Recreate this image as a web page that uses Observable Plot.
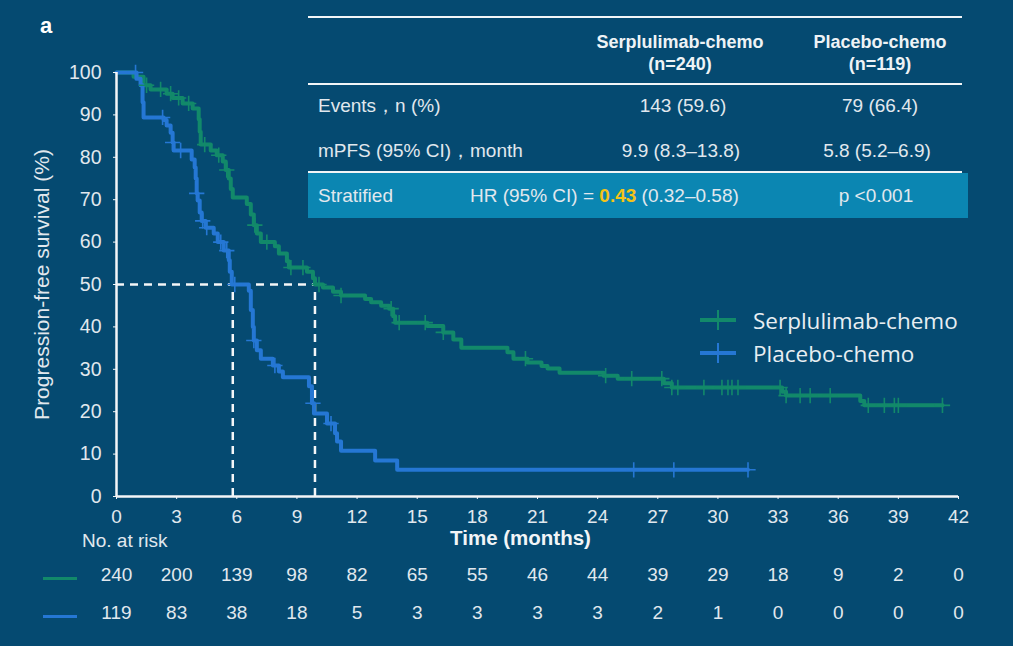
<!DOCTYPE html>
<html>
<head>
<meta charset="utf-8">
<script src="https://cdn.jsdelivr.net/npm/d3@7"></script>
<script src="https://cdn.jsdelivr.net/npm/@observablehq/plot@0.6"></script>
<style>
  html, body { margin: 0; padding: 0; background: #054a71; }
  #wrap { position: relative; width: 1013px; height: 646px; background: #054a71; overflow: hidden;
          font-family: "Liberation Sans", Arial, sans-serif; color: #e6edf2; }
  #wrap svg { position: absolute; left: 0; top: 0; }
  .ov { position: absolute; white-space: nowrap; }
  .c { transform: translate(-50%, -50%); text-align: center; }
  .l { transform: translate(0, -50%); }
  .hl { position: absolute; height: 2px; background: #f2f5f7; }
</style>
</head>
<body>
<div id="wrap"></div>
<script>
// ---------- data ----------
const groups = ["Serplulimab-chemo", "Placebo-chemo"];
const groupColors = ["#12896a", "#2577d4"];

const xTicks = [0, 3, 6, 9, 12, 15, 18, 21, 24, 27, 30, 33, 36, 39, 42];
const yTicks = [0, 10, 20, 30, 40, 50, 60, 70, 80, 90, 100];

// Serplulimab-chemo KM steps (months, % PFS)
const serpTimes = [0, 0.85, 1.35, 1.7, 2.5, 2.8, 3.3, 3.8, 4.1, 4.15, 4.2, 4.7, 5.0, 5.3, 5.45, 5.6, 5.7, 5.8,
  6.5, 6.7, 6.85, 7.0, 7.2, 7.9, 8.1, 8.5, 8.6, 9.5, 9.8, 9.9, 10.3, 10.8, 11.2, 12.4, 12.7, 13.2, 13.6, 13.8,
  13.9, 15.5, 16.3, 16.8, 17.2, 19.5, 19.8, 20.5, 21.2, 21.5, 22.1, 24.3, 25.0, 27.3, 27.7, 33.2, 33.4, 37.1,
  37.3, 41.2];
const serpSurv = [100, 99, 97, 96, 95, 94, 92.7, 91.5, 89, 86, 83, 81.6, 80.5, 79, 77, 75, 72.5, 70.5,
  69, 66.5, 64, 62, 60, 59, 57.3, 55.5, 54, 53, 51.5, 50, 49.3, 48.3, 47.4, 46.6, 45.8, 45, 44.3, 42.5,
  41, 40.2, 38.7, 37, 35.1, 34, 32.5, 31.6, 30.8, 30.2, 29.2, 28.5, 27.8, 26.7, 25.7, 24.7, 23.8, 22.5,
  21.5, 21.5];

// Placebo-chemo KM steps
const placTimes = [0, 1.0, 1.2, 1.3, 1.35, 2.35, 2.5, 2.7, 2.8, 2.85, 3.75, 3.9, 3.95, 4.0, 4.05, 4.15, 4.25,
  4.45, 4.85, 5.05, 5.35, 5.6, 5.65, 5.75, 6.6, 6.7, 6.8, 6.85, 7.0, 7.2, 7.8, 8.1, 8.3, 9.6, 9.75, 9.85,
  10.5, 10.9, 11.0, 11.2, 12.9, 14.0, 31.5];
const placSurv = [100, 98.5, 97, 93, 89.4, 88.8, 87.5, 85.8, 83.5, 81.6, 79.5, 77.6, 75, 71.5, 69.8, 67, 65,
  63.4, 62, 60, 58, 55.7, 53, 50, 48.5, 44, 40, 36.8, 34.5, 32.5, 30.9, 29.5, 28.1, 26, 22, 19.6,
  17.2, 14.9, 13, 10.8, 8.5, 6.3, 6.3];

// censoring times
const serpCensor = [1.5, 2.2, 2.7, 3.1, 3.6, 4.4, 5.1, 5.5, 6.9, 7.5, 8.7, 9.3, 10.1, 11.2, 13.7, 14.1, 15.4,
  16.3, 20.4, 24.4, 25.7, 27.2, 27.7, 28.0, 29.3, 30.2, 30.5, 30.7, 31.0, 33.1, 33.4, 34.1, 34.6, 35.6,
  37.5, 38.3, 38.8, 39.0, 41.2];
const placCensor = [0.95, 2.3, 2.8, 3.2, 4.0, 4.3, 4.5, 5.2, 5.5, 5.9, 6.85, 7.9, 9.8, 10.7, 25.8, 27.8, 31.5];

const medians = [5.8, 9.9];
const medianLevel = 50;

const riskTimes = xTicks;
const riskSerp = [240, 200, 139, 98, 82, 65, 55, 46, 44, 39, 29, 18, 9, 2, 0];
const riskPlac = [119, 83, 38, 18, 5, 3, 3, 3, 3, 2, 1, 0, 0, 0, 0];

// ---------- build ----------
function survAt(times, surv, t) {
  let v = surv[0];
  for (let i = 0; i < times.length; i++) if (times[i] <= t) v = surv[i];
  return v;
}
const curves = [
  ...serpTimes.map((t, i) => ({group: groups[0], t, s: serpSurv[i]})),
  ...placTimes.map((t, i) => ({group: groups[1], t, s: placSurv[i]}))
];
const censors = [
  ...serpCensor.map(t => ({group: groups[0], t, s: survAt(serpTimes, serpSurv, t)})),
  ...placCensor.map(t => ({group: groups[1], t, s: survAt(placTimes, placSurv, t)}))
];
const riskRows = [
  ...riskTimes.map((t, i) => ({row: 0, t, n: riskSerp[i]})),
  ...riskTimes.map((t, i) => ({row: 1, t, n: riskPlac[i]}))
];

const txt = "#e1e8ee";
const chart = Plot.plot({
  width: 1013,
  height: 646,
  marginLeft: 116,
  marginRight: 55,
  marginTop: 72,
  marginBottom: 150,
  style: {background: "transparent", color: txt, fontFamily: "'Liberation Sans', Arial, sans-serif", fontSize: "19px", overflow: "visible"},
  x: {domain: [0, 42]},
  y: {domain: [0, 100]},
  color: {domain: groups, range: groupColors},
  marks: [
    Plot.ruleY([medianLevel], {x1: 0, x2: d3.max(medians), stroke: "#f4f6f8", strokeWidth: 2.5, strokeDasharray: "8,6"}),
    Plot.ruleX(medians, {x: d => d, y1: 0, y2: medianLevel, stroke: "#f4f6f8", strokeWidth: 2.5, strokeDasharray: "8,6"}),
    Plot.line(curves, {x: "t", y: "s", z: "group", stroke: "group", curve: "step-after", strokeWidth: 4}),
    Plot.dot(censors, {x: "t", y: "s", stroke: "group", symbol: "plus", r: 5, strokeWidth: 1.6}),
    Plot.ruleX([0], {stroke: "#f4f6f8", strokeWidth: 2.5}),
    Plot.ruleY([0], {stroke: "#f4f6f8", strokeWidth: 2.5}),
    Plot.axisX({ticks: xTicks, tickSize: 3, tickPadding: 10, stroke: "#f4f6f8", label: null, fontSize: 19}),
    Plot.axisY({ticks: yTicks, tickSize: 3, tickPadding: 12, stroke: "#f4f6f8", label: null, fontSize: 19.5}),
    Plot.text(["Time (months)"], {frameAnchor: "bottom", dx: -17, dy: 48, fontWeight: "bold", fontSize: 20.5, fill: "#f2f5f7"}),
    Plot.text(["Progression-free survival (%)"], {frameAnchor: "left", textAnchor: "middle", dx: -74, rotate: -90, fontSize: 21, fill: txt}),
    Plot.text(riskRows.filter(d => d.row === 0), {x: "t", text: "n", frameAnchor: "bottom", dy: 84, fontSize: 19, fill: txt}),
    Plot.text(riskRows.filter(d => d.row === 1), {x: "t", text: "n", frameAnchor: "bottom", dy: 122, fontSize: 19, fill: txt})
  ]
});

const wrap = document.getElementById("wrap");
wrap.appendChild(chart);

function add(html) { wrap.insertAdjacentHTML("beforeend", html); }

// panel letter
add(`<div class="ov c" style="left:46px;top:26px;font-weight:bold;font-size:22px;color:#fff">a</div>`);

// summary table
add(`<div class="hl" style="left:308px;top:16px;width:654px"></div>`);
add(`<div class="hl" style="left:308px;top:83px;width:654px"></div>`);
add(`<div style="position:absolute;left:308px;top:173px;width:660px;height:45px;background:#0b86b2"></div>`);
add(`<div class="hl" style="left:308px;top:171px;width:654px"></div>`);
const hdr = "font-weight:bold;font-size:18px;color:#eef3f6";
add(`<div class="ov c" style="left:680px;top:42px;${hdr}">Serplulimab-chemo</div>`);
add(`<div class="ov c" style="left:680px;top:64px;${hdr}">(n=240)</div>`);
add(`<div class="ov c" style="left:880px;top:42px;${hdr}">Placebo-chemo</div>`);
add(`<div class="ov c" style="left:880px;top:64px;${hdr}">(n=119)</div>`);
const cell = "font-size:19px;color:#e1e8ee";
add(`<div class="ov l" style="left:318px;top:106px;${cell}">Events，n (%)</div>`);
add(`<div class="ov c" style="left:683px;top:106px;${cell}">143 (59.6)</div>`);
add(`<div class="ov c" style="left:880px;top:106px;${cell}">79 (66.4)</div>`);
add(`<div class="ov l" style="left:318px;top:151px;${cell}">mPFS (95% CI)，month</div>`);
add(`<div class="ov c" style="left:681px;top:151px;${cell}">9.9 (8.3–13.8)</div>`);
add(`<div class="ov c" style="left:877px;top:151px;${cell}">5.8 (5.2–6.9)</div>`);
add(`<div class="ov l" style="left:318px;top:196px;${cell}">Stratified</div>`);
add(`<div class="ov l" style="left:470px;top:196px;${cell}">HR (95% CI) = <span style="color:#f4c318;font-weight:bold">0.43</span> (0.32–0.58)</div>`);
add(`<div class="ov c" style="left:876px;top:196px;${cell}">p &lt;0.001</div>`);

// legend
const legY = [320, 353];
groups.forEach((g, i) => {
  add(`<div style="position:absolute;left:700px;top:${legY[i] - 2}px;width:36px;height:4px;background:${groupColors[i]}"></div>`);
  add(`<div style="position:absolute;left:717px;top:${legY[i] - 10}px;width:2px;height:20px;background:${groupColors[i]}"></div>`);
  add(`<div class="ov l" style="left:753px;top:${legY[i]}px;font-family:'Open Sans','Noto Sans',sans-serif;font-size:22.5px;color:#e8eef2">${g}</div>`);
});

// risk table labels
add(`<div class="ov l" style="left:82px;top:541px;font-size:19px;color:#e1e8ee">No. at risk</div>`);
add(`<div style="position:absolute;left:43px;top:577px;width:34px;height:3px;background:${groupColors[0]}"></div>`);
add(`<div style="position:absolute;left:43px;top:615px;width:34px;height:3px;background:${groupColors[1]}"></div>`);
</script>
</body>
</html>
